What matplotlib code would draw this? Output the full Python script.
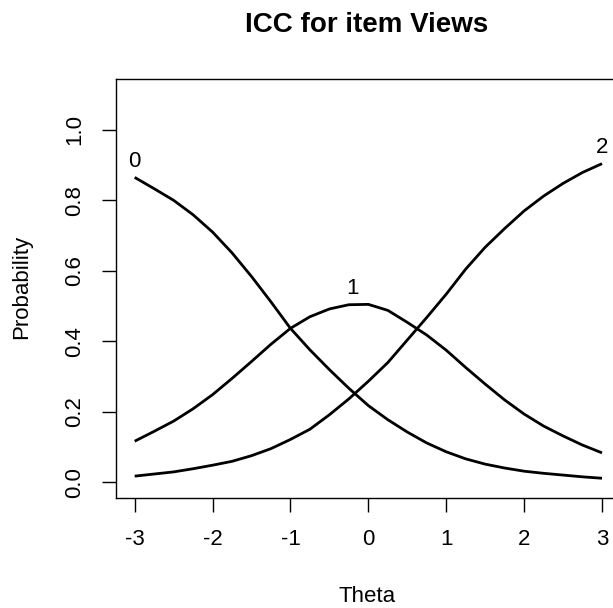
import matplotlib
matplotlib.use("Agg")
import matplotlib.pyplot as plt
import numpy as np

# --- data (theta grid every 0.25) ---
theta = [-3.0, -2.75, -2.5, -2.25, -2.0, -1.75, -1.5, -1.25, -1.0, -0.75, -0.5, -0.25,
         0.0, 0.25, 0.5, 0.75, 1.0, 1.25, 1.5, 1.75, 2.0, 2.25, 2.5, 2.75, 3.0]
p_cat0 = [0.865, 0.833, 0.800, 0.759, 0.710, 0.651, 0.584, 0.512, 0.437, 0.376, 0.320, 0.267,
          0.218, 0.178, 0.143, 0.112, 0.087, 0.067, 0.052, 0.041, 0.032, 0.026, 0.021, 0.016, 0.012]
p_cat1 = [0.117, 0.145, 0.174, 0.209, 0.249, 0.295, 0.343, 0.392, 0.437, 0.470, 0.492, 0.504,
          0.505, 0.488, 0.454, 0.418, 0.375, 0.326, 0.279, 0.234, 0.194, 0.160, 0.132, 0.106, 0.084]
p_cat2 = [0.018, 0.024, 0.030, 0.039, 0.049, 0.060, 0.076, 0.096, 0.122, 0.151, 0.192, 0.237,
          0.287, 0.340, 0.404, 0.468, 0.534, 0.605, 0.667, 0.720, 0.770, 0.812, 0.848, 0.879, 0.904]
cat_names = ["0", "1", "2"]
label_theta = [-3.0, -0.2, 3.0]

x_ticks = [-3, -2, -1, 0, 1, 2, 3]
y_ticks = [0.0, 0.2, 0.4, 0.6, 0.8, 1.0]

plt.rcParams['font.family'] = ['Liberation Sans', 'DejaVu Sans']

fig = plt.figure(figsize=(6.13, 6.08), dpi=100)
ax = fig.add_axes([116 / 613, 1 - 498 / 608, (620.7 - 116) / 613, (498 - 79) / 608])

curves = [p_cat0, p_cat1, p_cat2]
for name, probs, lx in zip(cat_names, curves, label_theta):
    ax.plot(theta, probs, color='black', linewidth=2, solid_capstyle='butt')
    ly = np.interp(lx, theta, probs)
    if name == "1":
        ly = max(probs)
    ax.annotate(name, (lx, ly), xytext=(0, 4), textcoords='offset points',
                ha='center', va='bottom', fontsize=16, color='black')

ax.set_xlim(-3.24, 3.24)
ax.set_ylim(-0.044, 1.144)
ax.set_xticks(x_ticks)
ax.set_xticklabels([str(t) for t in x_ticks])
ax.set_yticks(y_ticks)
ax.set_yticklabels([f"{t:.1f}" for t in y_ticks], rotation=90, va='center')
ax.tick_params(axis='both', direction='out', length=10, width=1, labelsize=16, pad=12)

for sp in ax.spines.values():
    sp.set_linewidth(1)
    sp.set_color('black')

fig.text(22 / 613, 1 - 287 / 608, "Probability", rotation=90, ha='center', va='center', fontsize=16)
fig.text(367 / 613, 1 - 597 / 608, "Theta", ha='center', va='center', fontsize=16)
fig.text(367 / 613, 1 - 25 / 608, "ICC for item Views", ha='center', va='center',
         fontsize=20, fontweight='bold')

fig.savefig("out.png", dpi=100)
